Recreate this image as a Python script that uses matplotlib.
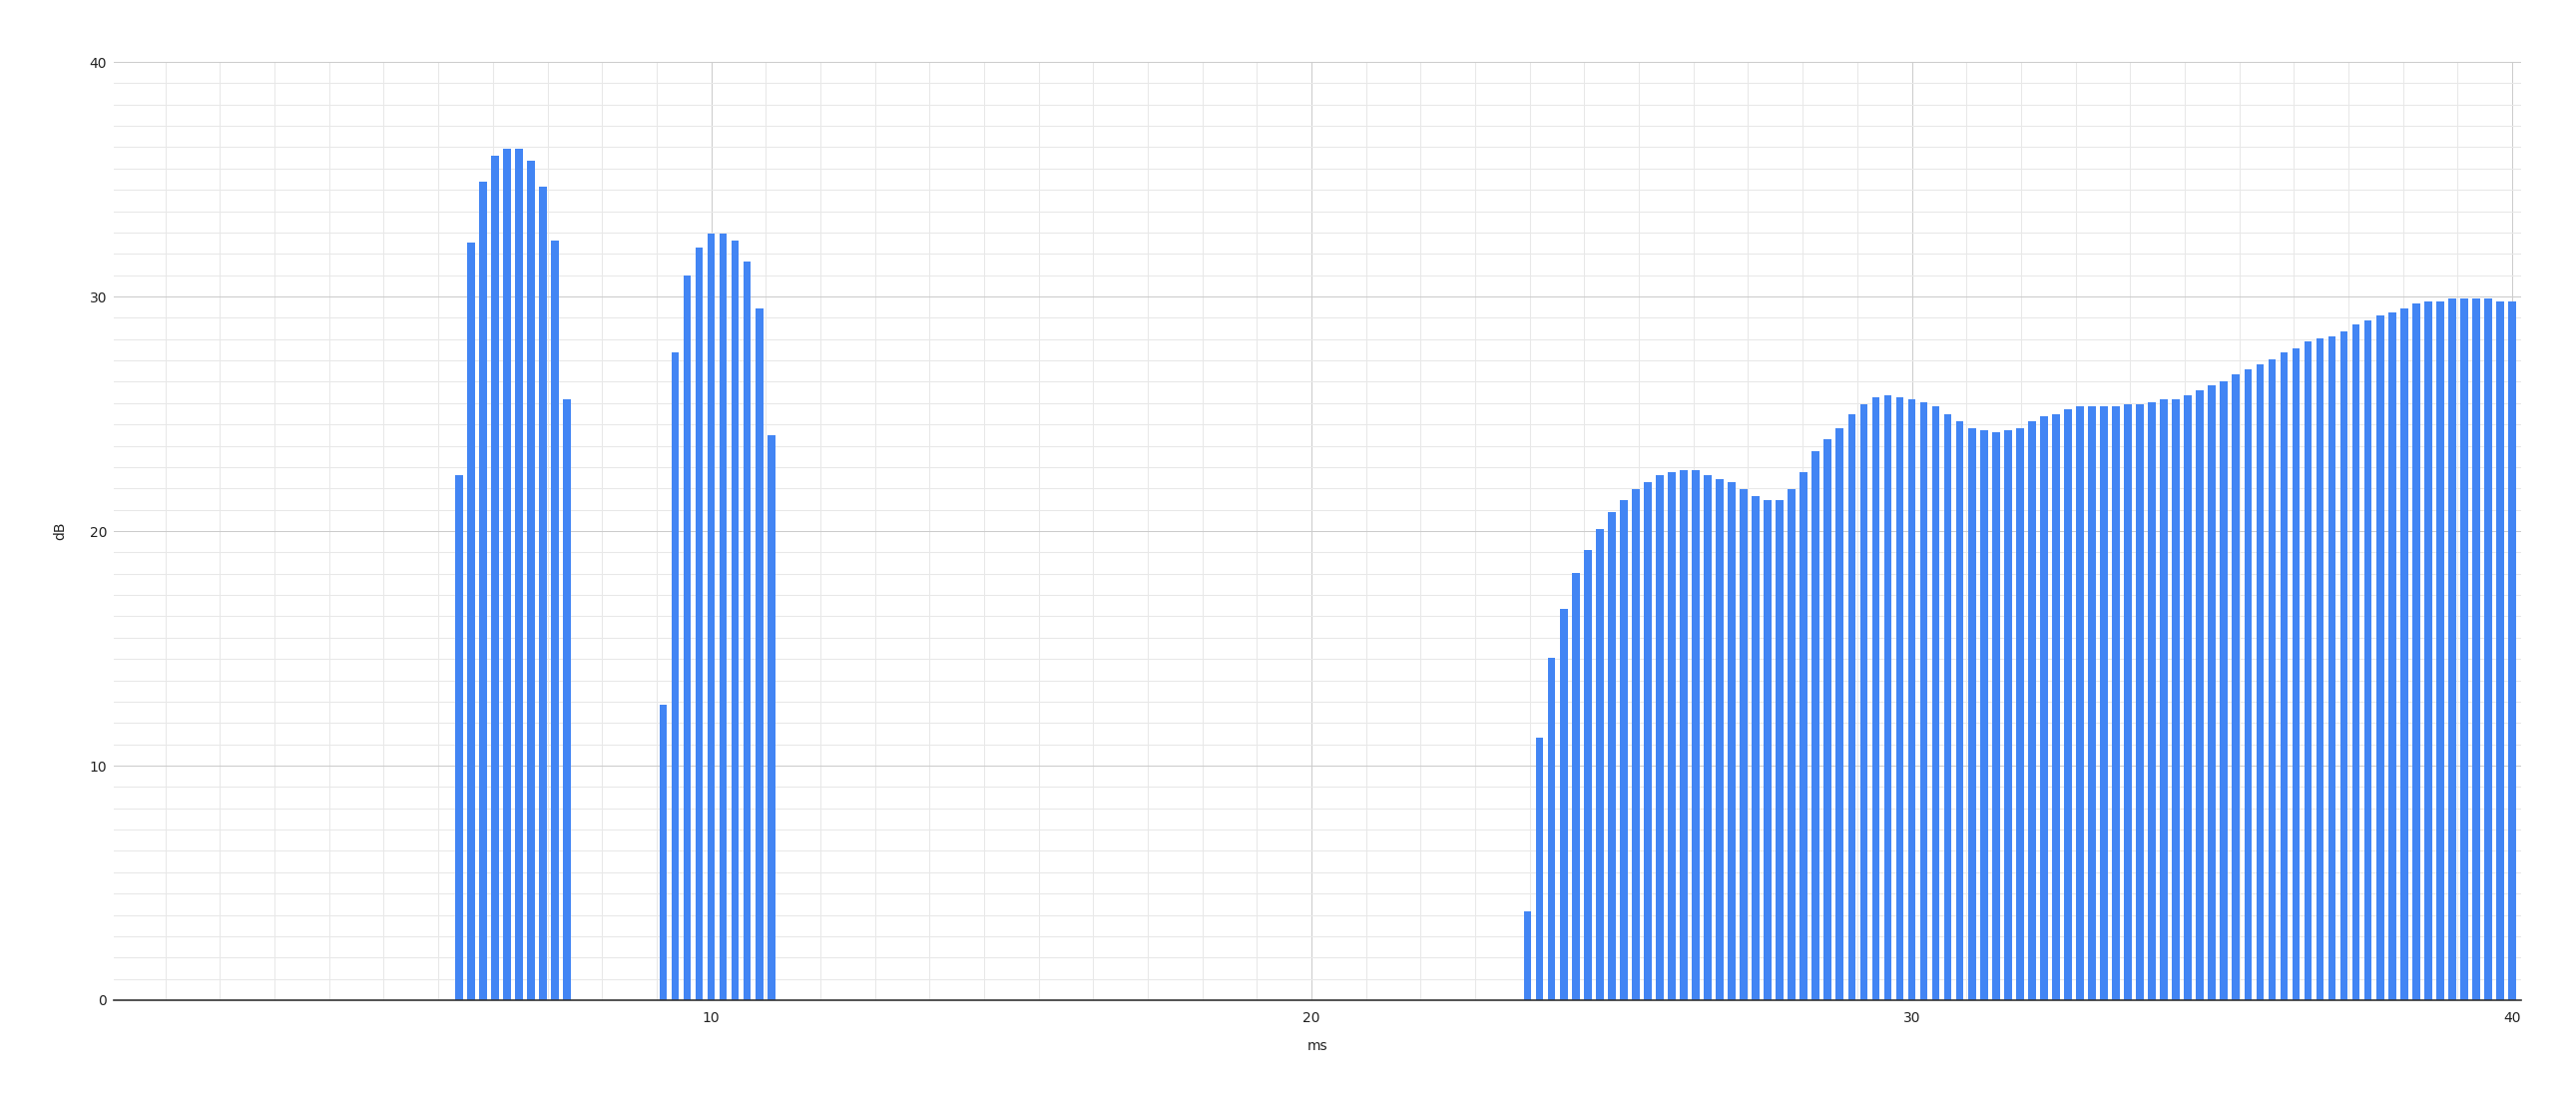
import matplotlib
matplotlib.use("Agg")
import matplotlib.pyplot as plt
from matplotlib.ticker import MultipleLocator

# impulse response energy (ms / dB)
time_a = [5.8, 6.0, 6.2, 6.4, 6.6, 6.8, 7.0, 7.2, 7.4, 7.6]
db_a = [22.4, 32.3, 34.9, 36.0, 36.3, 36.3, 35.8, 34.7, 32.4, 25.6]

time_b = [9.2, 9.4, 9.6, 9.8, 10.0, 10.2, 10.4, 10.6, 10.8, 11.0]
db_b = [12.6, 27.6, 30.9, 32.1, 32.7, 32.7, 32.4, 31.5, 29.5, 24.1]

time_c = [23.6, 23.8, 24.0, 24.2, 24.4, 24.6, 24.8, 25.0, 25.2, 25.4,
          25.6, 25.8, 26.0, 26.2, 26.4, 26.6, 26.8, 27.0, 27.2, 27.4,
          27.6, 27.8, 28.0, 28.2, 28.4, 28.6, 28.8, 29.0, 29.2, 29.4,
          29.6, 29.8, 30.0, 30.2, 30.4, 30.6, 30.8, 31.0, 31.2, 31.4,
          31.6, 31.8, 32.0, 32.2, 32.4, 32.6, 32.8, 33.0, 33.2, 33.4,
          33.6, 33.8, 34.0, 34.2, 34.4, 34.6, 34.8, 35.0, 35.2, 35.4,
          35.6, 35.8, 36.0, 36.2, 36.4, 36.6, 36.8, 37.0, 37.2, 37.4,
          37.6, 37.8, 38.0, 38.2, 38.4, 38.6, 38.8, 39.0, 39.2, 39.4,
          39.6, 39.8, 40.0]
db_c = [3.8, 11.2, 14.6, 16.7, 18.2, 19.2, 20.1, 20.8, 21.3, 21.8,
        22.1, 22.4, 22.5, 22.6, 22.6, 22.4, 22.2, 22.1, 21.8, 21.5,
        21.3, 21.3, 21.8, 22.5, 23.4, 23.9, 24.4, 25.0, 25.4, 25.7,
        25.8, 25.7, 25.6, 25.5, 25.3, 25.0, 24.7, 24.4, 24.3, 24.2,
        24.3, 24.4, 24.7, 24.9, 25.0, 25.2, 25.3, 25.3, 25.3, 25.3,
        25.4, 25.4, 25.5, 25.6, 25.6, 25.8, 26.0, 26.2, 26.4, 26.7,
        26.9, 27.1, 27.3, 27.6, 27.8, 28.1, 28.2, 28.3, 28.5, 28.8,
        29.0, 29.2, 29.3, 29.5, 29.7, 29.8, 29.8, 29.9, 29.9, 29.9,
        29.9, 29.8, 29.8]

x_ticks = [10, 20, 30, 40]
y_ticks = [0, 10, 20, 30, 40]

times = time_a + time_b + time_c
values = db_a + db_b + db_c

fig = plt.figure(figsize=(25.81, 11.10), dpi=100)
ax = fig.add_axes([0.0442, 0.0973, 0.9345, 0.8468])

ax.bar(times, values, width=0.128, color="#4285f4", zorder=3)

ax.set_xlim(0.05, 40.15)
ax.set_ylim(0, 40)
ax.set_xticks(x_ticks)
ax.set_yticks(y_ticks)
ax.xaxis.set_minor_locator(MultipleLocator(10 / 11))
ax.yaxis.set_minor_locator(MultipleLocator(10 / 11))

ax.grid(which="major", color="#cccccc", lw=0.75, zorder=1)
ax.grid(which="minor", color="#e8e8e8", lw=0.75, zorder=0)
ax.tick_params(which="both", length=0)
ax.tick_params(axis="x", pad=8, labelsize=10, labelcolor="#222222")
ax.tick_params(axis="y", pad=5, labelsize=10, labelcolor="#222222")

for side in ["top", "right", "left"]:
    ax.spines[side].set_visible(False)
ax.spines["bottom"].set_color("#333333")
ax.spines["bottom"].set_linewidth(1.2)
ax.spines["bottom"].set_zorder(4)

ax.set_xlabel("ms", fontsize=10, color="#222222")
ax.set_ylabel("dB", fontsize=10, color="#222222")
ax.xaxis.set_label_coords(0.5, -0.042)
ax.yaxis.set_label_coords(-0.0195, 0.5)

fig.savefig("out.png", dpi=100, facecolor="white")
